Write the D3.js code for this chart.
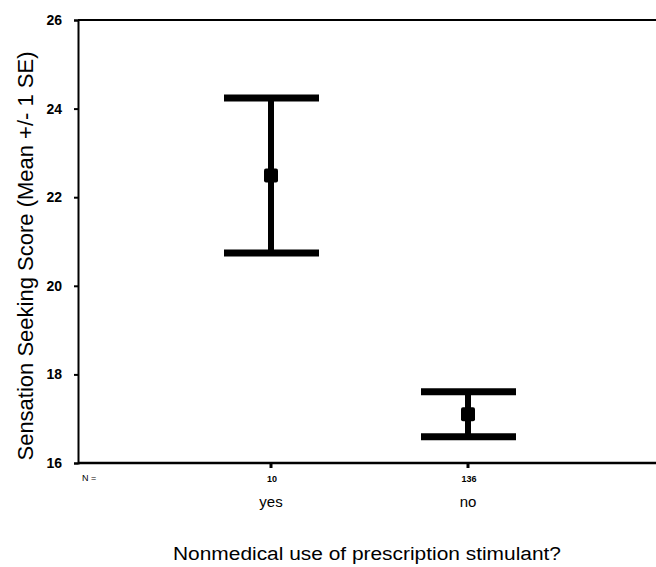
<!DOCTYPE html>
<html><head><meta charset="utf-8">
<script src="https://cdn.jsdelivr.net/npm/d3@7"></script>
<style>body{margin:0;background:#fff}text{font-family:"Liberation Sans",Arial,sans-serif;fill:#000}</style>
</head><body><svg id="c" width="656" height="567"></svg>
<script>
const categories = ["yes", "no"];
const nLabels = ["10", "136"];
const means = [22.49, 17.1];
const upper = [24.24, 17.61];
const lower = [20.74, 16.59];
const yTicks = [16, 18, 20, 22, 24, 26];

const svg = d3.select("#c");
const x = d3.scalePoint().domain(categories).range([271, 468]);
const y = d3.scaleLinear().domain([16, 26]).range([463, 20]);

// frame lines
svg.append("line").attr("x1", 78).attr("x2", 656).attr("y1", y(26)).attr("y2", y(26)).attr("stroke", "#000").attr("stroke-width", 2);
svg.append("line").attr("x1", 78).attr("x2", 656).attr("y1", y(16)).attr("y2", y(16)).attr("stroke", "#000").attr("stroke-width", 2.5);

const yAxis = svg.append("g").attr("transform", "translate(78,0)")
  .call(d3.axisLeft(y).tickValues(yTicks).tickSize(4).tickPadding(12).tickFormat(d3.format("d")));
yAxis.select(".domain").attr("stroke-width", 2);
yAxis.selectAll(".tick line").attr("stroke-width", 2);
yAxis.selectAll("text").style("font-size", "14px").style("font-weight", "bold").attr("fill", "#000");

// x ticks
svg.selectAll(".xt").data(categories).enter().append("line")
  .attr("x1", d => x(d)).attr("x2", d => x(d)).attr("y1", y(16)).attr("y2", y(16) + 5)
  .attr("stroke", "#000").attr("stroke-width", 3);

// N labels
svg.append("text").attr("x", 82).attr("y", 481).text("N =").style("font-size", "9px");
svg.selectAll(".nl").data(nLabels).enter().append("text")
  .attr("x", (d, i) => x(categories[i]) + 1).attr("y", 482).attr("text-anchor", "middle")
  .style("font-size", "9px").style("font-weight", "bold").text(d => d);
svg.selectAll(".cl").data(categories).enter().append("text")
  .attr("x", d => x(d)).attr("y", 507).attr("text-anchor", "middle")
  .style("font-size", "15px").text(d => d);

// error bars
const g = svg.selectAll(".eb").data(categories).enter().append("g");
g.append("line").attr("x1", d => x(d)).attr("x2", d => x(d))
  .attr("y1", (d, i) => y(upper[i])).attr("y2", (d, i) => y(lower[i]))
  .attr("stroke", "#000").attr("stroke-width", 6);
g.append("line").attr("x1", d => x(d) - 47).attr("x2", d => x(d) + 48)
  .attr("y1", (d, i) => y(upper[i])).attr("y2", (d, i) => y(upper[i]))
  .attr("stroke", "#000").attr("stroke-width", 7);
g.append("line").attr("x1", d => x(d) - 47).attr("x2", d => x(d) + 48)
  .attr("y1", (d, i) => y(lower[i])).attr("y2", (d, i) => y(lower[i]))
  .attr("stroke", "#000").attr("stroke-width", 7);
g.append("rect").attr("x", d => x(d) - 7).attr("y", (d, i) => y(means[i]) - 7)
  .attr("width", 14).attr("height", 14).attr("rx", 2).attr("fill", "#000");

// titles
svg.append("text").attr("transform", "translate(367,560) scale(1.1,1)").attr("text-anchor", "middle")
  .style("font-size", "19px").text("Nonmedical use of prescription stimulant?");
svg.append("text").attr("transform", "translate(33,256) rotate(-90)").attr("text-anchor", "middle")
  .style("font-size", "22px").text("Sensation Seeking Score (Mean +/- 1 SE)");
</script></body></html>
